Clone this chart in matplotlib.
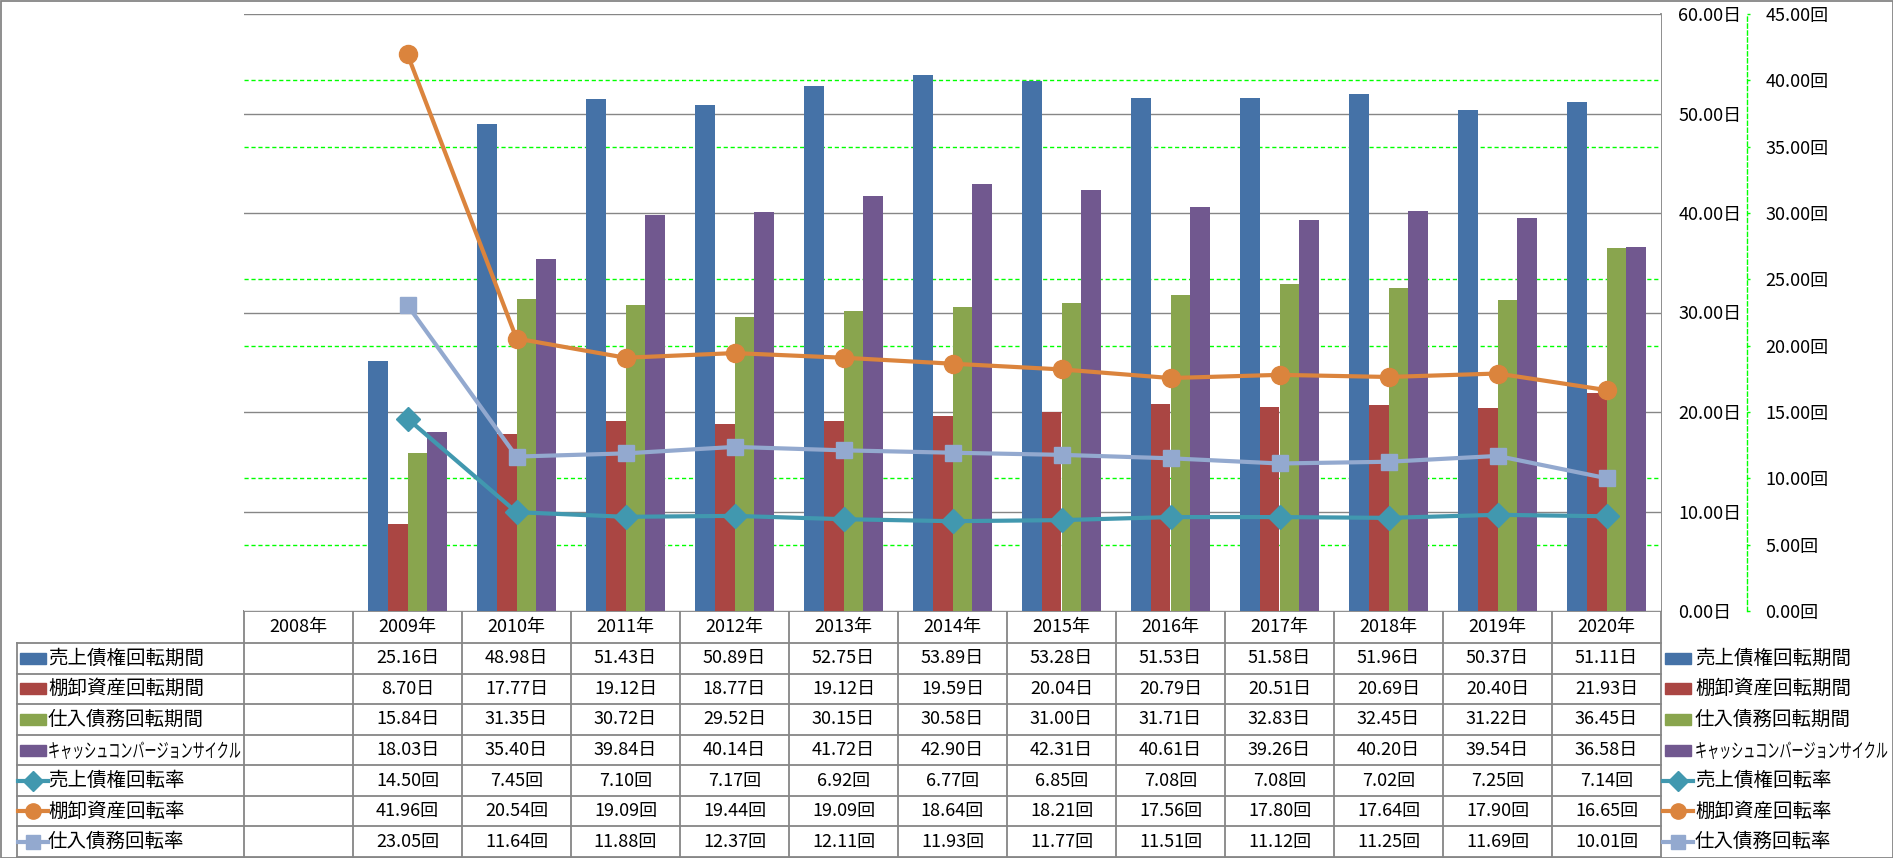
import numpy as np
import matplotlib
matplotlib.use("Agg")
from matplotlib import pyplot as plt
from matplotlib.patches import Rectangle, PathPatch
from matplotlib.lines import Line2D
from matplotlib.textpath import TextPath
from matplotlib.font_manager import FontProperties
from matplotlib.transforms import Affine2D

plt.rcParams["font.family"] = ["Noto Sans CJK JP", "DejaVu Sans"]

years = ["2008年", "2009年", "2010年", "2011年", "2012年", "2013年", "2014年",
         "2015年", "2016年", "2017年", "2018年", "2019年", "2020年"]
nan = np.nan
receivable_days = [nan, 25.16, 48.98, 51.43, 50.89, 52.75, 53.89, 53.28, 51.53, 51.58, 51.96, 50.37, 51.11]
inventory_days = [nan, 8.70, 17.77, 19.12, 18.77, 19.12, 19.59, 20.04, 20.79, 20.51, 20.69, 20.40, 21.93]
payable_days = [nan, 15.84, 31.35, 30.72, 29.52, 30.15, 30.58, 31.00, 31.71, 32.83, 32.45, 31.22, 36.45]
ccc_days = [nan, 18.03, 35.40, 39.84, 40.14, 41.72, 42.90, 42.31, 40.61, 39.26, 40.20, 39.54, 36.58]
receivable_turn = [nan, 14.50, 7.45, 7.10, 7.17, 6.92, 6.77, 6.85, 7.08, 7.08, 7.02, 7.25, 7.14]
inventory_turn = [nan, 41.96, 20.54, 19.09, 19.44, 19.09, 18.64, 18.21, 17.56, 17.80, 17.64, 17.90, 16.65]
payable_turn = [nan, 23.05, 11.64, 11.88, 12.37, 12.11, 11.93, 11.77, 11.51, 11.12, 11.25, 11.69, 10.01]

bar_names = ["売上債権回転期間", "棚卸資産回転期間", "仕入債務回転期間", "キャッシュコンバージョンサイクル"]
line_names = ["売上債権回転率", "棚卸資産回転率", "仕入債務回転率"]
day_ticks = np.arange(0, 61, 10)
turn_ticks = np.arange(0, 46, 5)

bar_data = [receivable_days, inventory_days, payable_days, ccc_days]
line_data = [receivable_turn, inventory_turn, payable_turn]
bar_colors = ["#4572A7", "#AA4643", "#89A54E", "#71588F"]
line_colors = ["#4198AF", "#DB843D", "#93A9CF"]
line_markers = [("D", 12), ("o", 13), ("s", 12)]

W, H = 1893, 858
GRAY = "#868686"
L, R, T, B = 244, 1661, 14, 611
NUM_FS = 13

fig = plt.figure(figsize=(W / 100, H / 100), dpi=100)
ax = fig.add_axes([L / W, 1 - B / H, (R - L) / W, (B - T) / H])
x = np.arange(len(years))
ax.set_xlim(-0.5, len(years) - 0.5)
ax.set_ylim(day_ticks[0], day_ticks[-1])

# secondary gridlines (green dashed) drawn behind the bars, skipping the
# ones that fall on a primary gridline
for v in turn_ticks[1:]:
    yv = v * day_ticks[-1] / turn_ticks[-1]
    if np.isclose(yv, day_ticks).any():
        continue
    ax.axhline(yv, color="#00FF00", lw=1, dashes=(3, 2), zorder=0.5)
for v in day_ticks:
    ax.axhline(v, color=GRAY, lw=1, zorder=0.6)

bw = 0.183
for i, (vals, c) in enumerate(zip(bar_data, bar_colors)):
    ax.bar(x + (i - 1.5) * bw, vals, width=bw, color=c, zorder=2)

ax2 = ax.twinx()
ax2.set_ylim(turn_ticks[0], turn_ticks[-1])
for vals, c, (m, ms) in zip(line_data, line_colors, line_markers):
    ax2.plot(x, vals, color=c, lw=3, marker=m, markersize=ms, zorder=3)
ax2.set_yticks(turn_ticks)
ax2.set_yticklabels([f"{v:.2f}回" for v in turn_ticks])
ax2.spines["right"].set_position(("outward", 62))
ax2.spines["right"].set_color("#00FF00")
ax2.spines["right"].set_linestyle((0, (3, 2)))
ax2.spines["right"].set_linewidth(1)
ax2.tick_params(axis="y", length=2.5, width=1, color="#00FF00", pad=10.5,
                labelsize=NUM_FS, labelcolor="black")
for s in ["left", "top", "bottom"]:
    ax2.spines[s].set_visible(False)

ax.set_xticks([])
ax.yaxis.tick_right()
ax.set_yticks(day_ticks)
ax.set_yticklabels([f"{v:.2f}日" for v in day_ticks])
ax.tick_params(axis="y", length=0, pad=12.5, labelsize=NUM_FS)
for s in ["left", "top", "bottom", "right"]:
    ax.spines[s].set_visible(False)

# overlay in pixel coordinates for the data table and legends
ov = fig.add_axes([0, 0, 1, 1], zorder=-1)
ov.set_xlim(0, W)
ov.set_ylim(H, 0)
ov.axis("off")

col_w = (R - L) / len(years)
col_edges = [L + i * col_w for i in range(len(years) + 1)]
row_edges = [B, 643] + [643 + (857 - 643) / 7 * k for k in range(1, 8)]
LEG_X = 17

ov.plot([L, R], [B, B], color=GRAY, lw=1.3)
for y in row_edges[1:]:
    ov.plot([LEG_X, R], [y, y], color=GRAY, lw=1.3)
for xe in col_edges[:-1]:
    ov.plot([xe, xe], [B, row_edges[-1]], color=GRAY, lw=1.3)
ov.plot([R, R], [T, row_edges[-1]], color=GRAY, lw=1.3)
ov.plot([LEG_X, LEG_X], [row_edges[1], row_edges[-1]], color=GRAY, lw=1.3)
ov.add_patch(Rectangle((0.5, 0.5), W - 1, H - 1, fill=False, ec=GRAY, lw=1.3))

centers = [(col_edges[i] + col_edges[i + 1]) / 2 for i in range(len(years))]
hy = (row_edges[0] + row_edges[1]) / 2
for cx, yr in zip(centers, years):
    ov.text(cx, hy, yr, ha="center", va="center", fontsize=NUM_FS)

rows = [(v, "日") for v in bar_data] + [(v, "回") for v in line_data]
for r, (vals, unit) in enumerate(rows):
    yc = (row_edges[r + 1] + row_edges[r + 2]) / 2
    for cx, v in zip(centers, vals):
        if not np.isnan(v):
            ov.text(cx, yc, f"{v:.2f}{unit}", ha="center", va="center", fontsize=NUM_FS)


def narrow_text(tx, yc, s, size=14, sx=0.62):
    # horizontally condensed label, like the squeezed katakana in the original
    fp = FontProperties(family="Noto Sans CJK JP", size=size)
    path = TextPath((0, 0), s, prop=fp)
    em = size * 100 / 72
    tr = Affine2D().scale(sx * 100 / 72, -100 / 72).translate(tx, yc + 0.38 * em)
    ov.add_patch(PathPatch(path, transform=tr + ov.transData, color="black", lw=0))


names = bar_names + line_names
for r, name in enumerate(names):
    yc = (row_edges[r + 1] + row_edges[r + 2]) / 2
    for kx, tx in [(20, 48), (1665, 1695)]:
        if r < 4:
            ov.add_patch(Rectangle((kx, yc - 5.5), 26, 11, color=bar_colors[r]))
        else:
            c = line_colors[r - 4]
            m, ms = line_markers[r - 4]
            ov.add_line(Line2D([kx - 2, kx + 28], [yc, yc], color=c, lw=3))
            ov.add_line(Line2D([kx + 13], [yc], color=c, marker=m, markersize=ms - 2, lw=0))
        if r == 3:
            narrow_text(tx, yc, name)
        else:
            ov.text(tx, yc, name, ha="left", va="center", fontsize=14)

fig.savefig("out.png", dpi=100)
